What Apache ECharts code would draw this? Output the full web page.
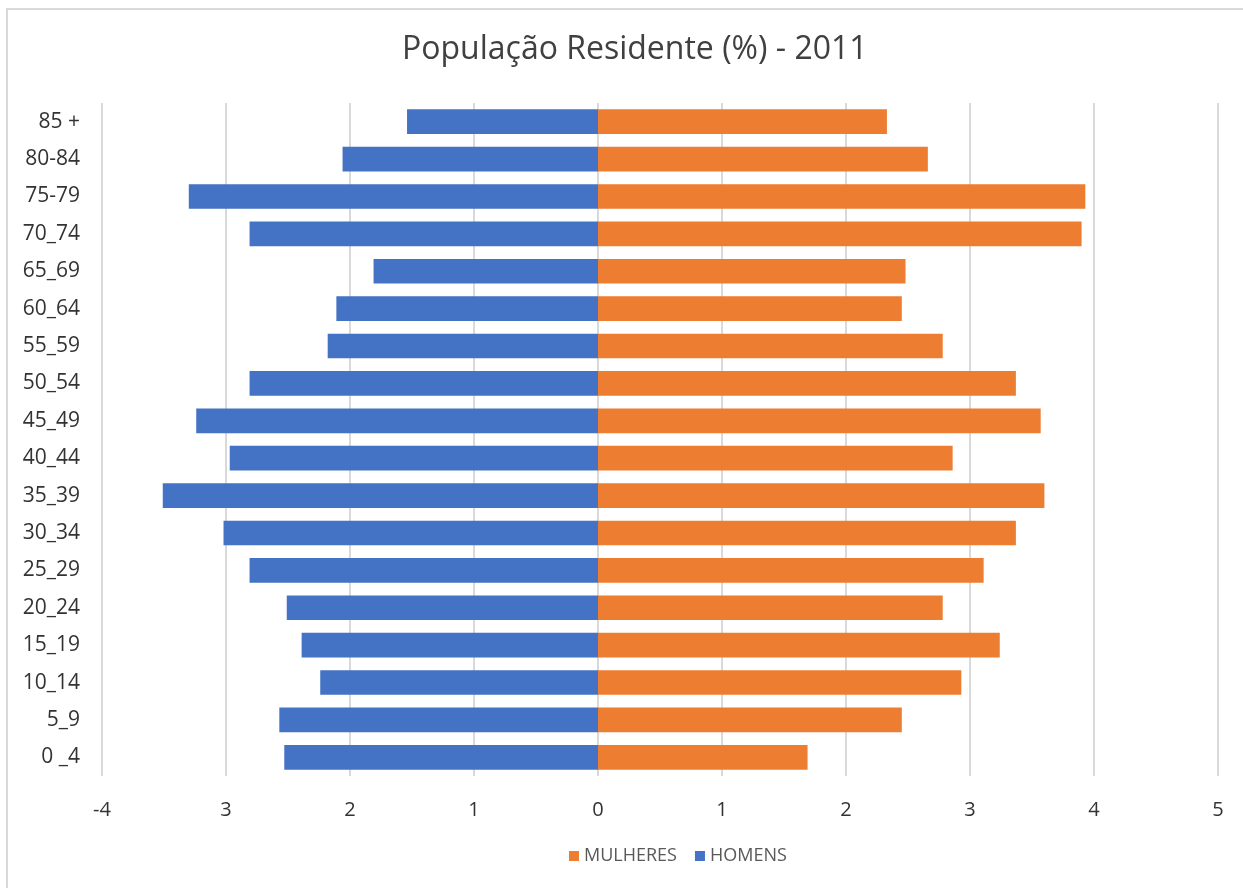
<!DOCTYPE html>
<html>
<head>
<meta charset="utf-8">
<script src="https://cdn.jsdelivr.net/npm/echarts@6/dist/echarts.min.js"></script>
<style>
  html, body { margin: 0; padding: 0; background: #ffffff; }
  #chart { width: 1243px; height: 888px; }
</style>
</head>
<body>
<div id="chart"></div>
<script>
// Age groups, bottom to top
const ageGroups = ['0 _4', '5_9', '10_14', '15_19', '20_24', '25_29', '30_34', '35_39', '40_44',
  '45_49', '50_54', '55_59', '60_64', '65_69', '70_74', '75-79', '80-84', '85 +'];

// Share of resident population (%) per age group
const homens = [2.53, 2.57, 2.24, 2.39, 2.51, 2.81, 3.02, 3.51, 2.97,
  3.24, 2.81, 2.18, 2.11, 1.81, 2.81, 3.30, 2.06, 1.54];
const mulheres = [1.69, 2.45, 2.93, 3.24, 2.78, 3.11, 3.37, 3.60, 2.86,
  3.57, 3.37, 2.78, 2.45, 2.48, 3.90, 3.93, 2.66, 2.33];

// Axis tick labels shown under the value axis
const tickLabels = { '-4': '-4', '-3': '3', '-2': '2', '-1': '1', '0': '0',
  '1': '1', '2': '2', '3': '3', '4': '4', '5': '5' };

const FONT = '"Open Sans", "Noto Sans", sans-serif';
const chart = echarts.init(document.getElementById('chart'), null, { renderer: 'canvas' });

chart.setOption({
  backgroundColor: '#ffffff',
  animation: false,
  title: {
    text: 'População Residente (%) - 2011',
    left: 397,
    top: 29,
    textStyle: { fontFamily: FONT, fontSize: 32, fontWeight: 'normal', color: '#404040' }
  },
  graphic: [{
    type: 'rect',
    shape: { x: 7, y: 9, width: 1300, height: 950 },
    style: { fill: 'none', stroke: '#d9d9d9', lineWidth: 2 },
    silent: true
  }],
  legend: {
    data: ['MULHERES', 'HOMENS'],
    left: 564,
    top: 842,
    itemWidth: 10,
    itemHeight: 10,
    itemGap: 18,
    icon: 'rect',
    textStyle: { fontFamily: FONT, fontSize: 18, color: '#595959' }
  },
  grid: { left: 102, right: 25, top: 103, bottom: 112, containLabel: false },
  xAxis: {
    type: 'value',
    min: -4,
    max: 5,
    interval: 1,
    axisLine: { show: false },
    axisTick: { show: false },
    splitLine: { show: true, lineStyle: { color: '#d9d9d9', width: 2 } },
    axisLabel: {
      margin: 24,
      fontFamily: FONT,
      fontSize: 20,
      color: '#333333',
      formatter: function (v) { return tickLabels[String(v)]; }
    }
  },
  yAxis: {
    type: 'category',
    data: ageGroups,
    axisLine: { show: false },
    axisTick: { show: false },
    axisLabel: { margin: 22, fontFamily: FONT, fontSize: 21, color: '#333333' }
  },
  series: [
    {
      name: 'MULHERES',
      type: 'bar',
      data: mulheres,
      barCategoryGap: '34%',
      barGap: '-100%',
      itemStyle: { color: '#ED7D31' }
    },
    {
      name: 'HOMENS',
      type: 'bar',
      data: homens.map(v => -v),
      barCategoryGap: '34%',
      barGap: '-100%',
      itemStyle: { color: '#4472C4' }
    }
  ]
});
</script>
</body>
</html>
